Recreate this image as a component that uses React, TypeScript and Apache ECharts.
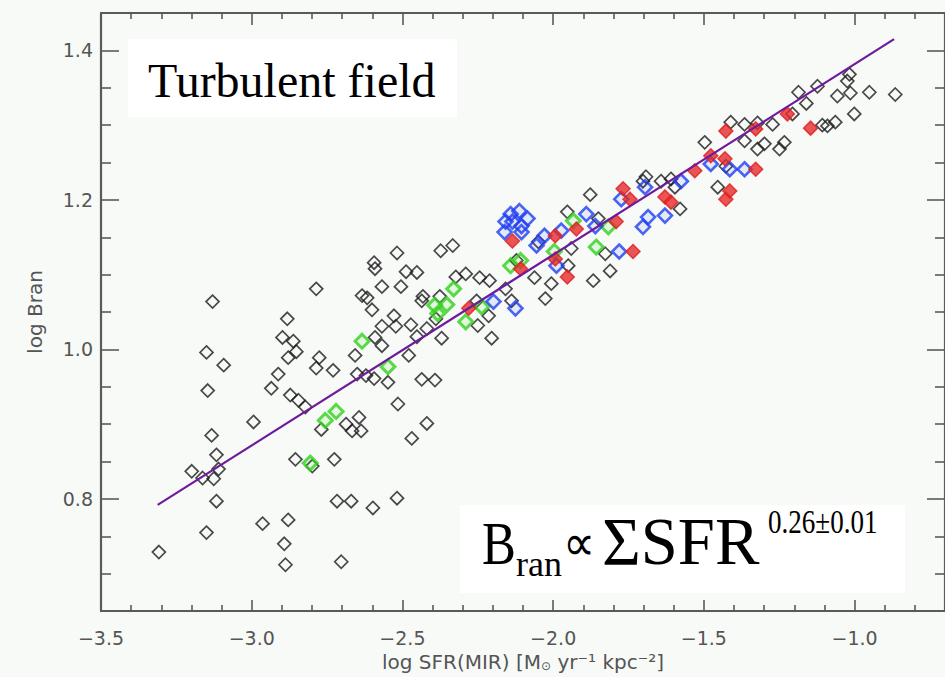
import React, { useEffect, useRef } from 'react';
import * as echarts from 'echarts';

// ---------- axis ticks ----------
const xMajorTicks = [-3.5, -3.0, -2.5, -2.0, -1.5, -1.0];
const xMinorTicks = [-3.4, -3.3, -3.2, -3.1, -2.9, -2.8, -2.7, -2.6, -2.4, -2.3, -2.2, -2.1, -1.9, -1.8, -1.7, -1.6, -1.4, -1.3, -1.2, -1.1, -0.9, -0.8];
const yMajorTicks = [0.8, 1.0, 1.2, 1.4];
const yMinorTicks = [0.7, 0.75, 0.85, 0.9, 0.95, 1.05, 1.1, 1.15, 1.25, 1.3, 1.35];

// ---------- data: [log SFR, log Bran] ----------
const blackPoints: [number, number][] = [
  [-3.308, 0.729], [-3.150, 0.755], [-3.199, 0.837], [-3.163, 0.828], [-3.126, 0.827], [-3.110, 0.840],
  [-3.117, 0.859], [-3.133, 0.885], [-3.117, 0.797], [-2.994, 0.903], [-2.964, 0.767], [-2.879, 0.772],
  [-2.892, 0.740], [-2.888, 0.712], [-2.855, 0.853], [-2.799, 0.844], [-2.726, 0.853], [-2.717, 0.797],
  [-2.670, 0.797], [-2.598, 0.788], [-2.518, 0.801], [-2.703, 0.716], [-2.769, 0.893], [-2.687, 0.900],
  [-2.667, 0.891], [-2.637, 0.891], [-2.644, 0.909], [-2.515, 0.927], [-2.469, 0.881], [-2.419, 0.901],
  [-3.130, 1.064], [-3.150, 0.996], [-3.093, 0.979], [-3.146, 0.945], [-2.935, 0.948], [-2.912, 0.967],
  [-2.882, 1.041], [-2.898, 1.016], [-2.862, 1.011], [-2.852, 0.997], [-2.879, 0.989], [-2.872, 0.939],
  [-2.845, 0.932], [-2.822, 0.923], [-2.786, 1.081], [-2.776, 0.989], [-2.786, 0.975], [-2.730, 0.972],
  [-2.657, 0.992], [-2.650, 0.967], [-2.634, 1.072], [-2.617, 1.069], [-2.601, 1.053], [-2.594, 1.116],
  [-2.591, 1.108], [-2.568, 1.084], [-2.518, 1.129], [-2.488, 1.104], [-2.452, 1.103], [-2.505, 1.084],
  [-2.528, 1.045], [-2.568, 1.031], [-2.591, 1.016], [-2.568, 1.005], [-2.522, 1.031], [-2.472, 1.033],
  [-2.436, 1.065], [-2.452, 1.017], [-2.419, 1.028], [-2.479, 0.992], [-2.621, 0.965], [-2.594, 0.961],
  [-2.548, 0.956], [-2.436, 0.960], [-2.392, 0.959], [-2.373, 1.132], [-2.333, 1.139], [-2.432, 1.071],
  [-2.376, 1.071], [-2.323, 1.097], [-2.290, 1.101], [-2.244, 1.096], [-2.211, 1.092], [-2.250, 1.032],
  [-2.214, 1.045], [-2.204, 1.015], [-2.254, 1.065], [-2.158, 1.081], [-2.138, 1.065], [-2.122, 1.119],
  [-2.062, 1.096], [-2.006, 1.088], [-2.026, 1.068], [-1.953, 1.184], [-1.940, 1.135], [-1.867, 1.092],
  [-1.811, 1.105], [-1.827, 1.128], [-1.877, 1.207], [-1.850, 1.175], [-1.692, 1.231], [-1.642, 1.225],
  [-1.609, 1.228], [-1.596, 1.217], [-1.579, 1.188], [-1.497, 1.277], [-1.454, 1.217], [-1.411, 1.304],
  [-1.365, 1.301], [-1.365, 1.279], [-1.322, 1.303], [-1.322, 1.268], [-1.299, 1.275], [-1.272, 1.301],
  [-1.249, 1.268], [-1.233, 1.277], [-1.206, 1.315], [-1.186, 1.344], [-1.160, 1.329], [-1.123, 1.352],
  [-1.107, 1.300], [-1.090, 1.299], [-1.064, 1.304], [-1.057, 1.339], [-1.024, 1.359], [-1.017, 1.368],
  [-1.014, 1.343], [-1.001, 1.315], [-0.951, 1.344], [-0.865, 1.341], [-1.702, 1.225], [-1.427, 1.245],
  [-2.389, 1.041], [-2.370, 1.015], [-1.950, 1.112], [-2.049, 1.144],
];

const greenPoints: [number, number][] = [
  [-2.806, 0.848], [-2.756, 0.905], [-2.720, 0.917], [-2.634, 1.011], [-2.548, 0.977], [-2.393, 1.059],
  [-2.353, 1.060], [-2.330, 1.081], [-2.383, 1.048], [-2.290, 1.037], [-2.237, 1.057], [-2.141, 1.112],
  [-2.108, 1.119], [-1.857, 1.137], [-1.817, 1.164], [-1.996, 1.131], [-1.933, 1.172],
];

const bluePoints: [number, number][] = [
  [-2.198, 1.064], [-2.125, 1.055], [-2.141, 1.181], [-2.112, 1.185], [-2.085, 1.175], [-2.105, 1.165],
  [-2.161, 1.157], [-2.135, 1.171], [-2.105, 1.157], [-2.158, 1.171], [-2.055, 1.139], [-2.029, 1.152],
  [-1.973, 1.159], [-1.989, 1.112], [-1.890, 1.181], [-1.860, 1.165], [-1.781, 1.131], [-1.702, 1.164],
  [-1.685, 1.177], [-1.629, 1.179], [-1.774, 1.201], [-1.695, 1.217], [-1.576, 1.225], [-1.477, 1.248],
  [-1.414, 1.241], [-1.365, 1.241],
];

const redPoints: [number, number][] = [
  [-2.280, 1.055], [-2.135, 1.145], [-2.108, 1.108], [-1.993, 1.152], [-1.953, 1.097], [-1.923, 1.161],
  [-1.791, 1.171], [-1.735, 1.131], [-1.768, 1.215], [-1.745, 1.201], [-1.629, 1.204], [-1.609, 1.197],
  [-1.530, 1.239], [-1.477, 1.259], [-1.427, 1.292], [-1.427, 1.201], [-1.414, 1.212], [-1.430, 1.255],
  [-1.328, 1.241], [-1.328, 1.295], [-1.223, 1.315], [-1.146, 1.296], [-1.993, 1.121],
];

const fitLine: [number, number][] = [[-3.312, 0.792], [-0.869, 1.415]];

const X_MIN = -3.5;
const X_MAX = -0.7;
const Y_MIN = 0.65;
const Y_MAX = 1.45;

const AXIS_COLOR = '#5a5a5a';
const LABEL_COLOR = '#555555';
const SANS = '"DejaVu Sans", sans-serif';
const SERIF = '"Liberation Serif", "Times New Roman", serif';

const fmt = (v: number) => (v < 0 ? '\u2212' : '') + Math.abs(v).toFixed(1);

function xAxisDef(position: 'bottom' | 'top', ticks: number[], len: number, showLine: boolean, labels: boolean, name?: string) {
  return {
    type: 'value',
    position,
    min: X_MIN,
    max: X_MAX,
    name: name || '',
    nameLocation: 'middle',
    nameGap: 38,
    nameTextStyle: {
      color: LABEL_COLOR,
      fontFamily: SANS,
      fontSize: 20,
      rich: {
        s: { fontSize: 12, color: LABEL_COLOR, fontFamily: SANS, padding: [8, 0, 0, 0] },
      },
    },
    axisLine: { show: showLine, onZero: false, lineStyle: { color: AXIS_COLOR, width: 2.2 } },
    axisTick: { show: true, inside: true, length: len, customValues: ticks, lineStyle: { color: AXIS_COLOR, width: 1.6 } },
    axisLabel: labels
      ? { show: true, customValues: ticks, formatter: fmt, color: LABEL_COLOR, fontFamily: SANS, fontSize: 19, margin: 17 }
      : { show: false },
    splitLine: { show: false },
  };
}

function yAxisDef(position: 'left' | 'right', ticks: number[], len: number, showLine: boolean, labels: boolean, name?: string) {
  return {
    type: 'value',
    position,
    min: Y_MIN,
    max: Y_MAX,
    name: name || '',
    nameLocation: 'middle',
    nameRotate: 90,
    nameGap: 56,
    nameTextStyle: { color: LABEL_COLOR, fontFamily: SANS, fontSize: 20 },
    axisLine: { show: showLine, onZero: false, lineStyle: { color: AXIS_COLOR, width: 2.2 } },
    axisTick: { show: true, inside: true, length: len, customValues: ticks, lineStyle: { color: AXIS_COLOR, width: 1.6 } },
    axisLabel: labels
      ? { show: true, customValues: ticks, formatter: (v: number) => v.toFixed(1), color: LABEL_COLOR, fontFamily: SANS, fontSize: 19, margin: 8 }
      : { show: false },
    splitLine: { show: false },
  };
}

function serifText(text: string, x: number, baseline: number, size: number, scaleX = 1) {
  return {
    type: 'text',
    x,
    y: baseline - 0.3375 * size,
    scaleX,
    z: 10,
    style: {
      text,
      fill: '#000000',
      font: `${size}px ${SERIF}`,
      textAlign: 'left',
      textVerticalAlign: 'middle',
      verticalAlign: 'middle',
    },
  };
}

export default function App() {
  const ref = useRef<HTMLDivElement>(null);

  useEffect(() => {
    if (!ref.current) return;
    const chart = echarts.init(ref.current, null, { renderer: 'svg' });

    const scatterBase = { type: 'scatter', symbol: 'diamond', symbolSize: 13, xAxisIndex: 0, yAxisIndex: 0 };

    chart.setOption({
      animation: false,
      backgroundColor: '#f8faf8',
      grid: { left: 101, top: 13, width: 847, height: 600, containLabel: false },
      xAxis: [
        xAxisDef('bottom', xMajorTicks, 11, true, true, 'log SFR(MIR) [M{s|\u2299} yr\u207B\u00B9 kpc\u207B\u00B2]'),
        xAxisDef('bottom', xMinorTicks, 6, false, false),
        xAxisDef('top', xMajorTicks, 12, true, false),
        xAxisDef('top', xMinorTicks, 6, false, false),
      ],
      yAxis: [
        yAxisDef('left', yMajorTicks, 18, true, true, 'log Bran'),
        yAxisDef('left', yMinorTicks, 10, false, false),
        yAxisDef('right', yMajorTicks, 18, true, false),
        yAxisDef('right', yMinorTicks, 10, false, false),
      ],
      graphic: [
        { type: 'rect', z: 0, shape: { x: 128, y: 39, width: 329, height: 78 }, style: { fill: '#ffffff' }, silent: true },
        { type: 'rect', z: 0, shape: { x: 460, y: 505, width: 445, height: 88 }, style: { fill: '#ffffff' }, silent: true },
        serifText('Turbulent field', 148, 97, 48),
        serifText('B', 482, 564, 62, 0.82),
        serifText('ran', 516, 576, 36),
        serifText('\u221D', 563, 560, 50, 0.9),
        serifText('\u03A3SFR', 602, 564, 68, 0.98),
        serifText('0.26\u00B10.01', 768, 533, 33, 0.82),
      ],
      series: [
        {
          ...scatterBase,
          name: 'other',
          data: blackPoints,
          itemStyle: { color: 'rgba(0,0,0,0)', borderColor: '#1c1c1c', borderWidth: 1.7 },
          z: 2,
        },
        {
          ...scatterBase,
          name: 'green',
          data: greenPoints,
          symbolSize: 14,
          itemStyle: { color: 'rgba(80,220,60,0.15)', borderColor: '#33d11f', borderWidth: 3 },
          z: 3,
        },
        {
          ...scatterBase,
          name: 'blue',
          data: bluePoints,
          symbolSize: 14,
          itemStyle: { color: 'rgba(40,70,240,0.12)', borderColor: '#1f3ff0', borderWidth: 2.6 },
          z: 4,
        },
        {
          ...scatterBase,
          name: 'red',
          data: redPoints,
          symbolSize: 14,
          itemStyle: { color: '#e52a2a', borderColor: '#e01e1e', borderWidth: 1.5 },
          z: 5,
        },
        {
          type: 'line',
          name: 'fit',
          data: fitLine,
          xAxisIndex: 0,
          yAxisIndex: 0,
          symbol: 'none',
          lineStyle: { color: '#6d1a9c', width: 2.2 },
          z: 6,
        },
      ],
    });

    return () => chart.dispose();
  }, []);

  return <div ref={ref} style={{ position: 'fixed', left: 0, top: 0, width: 945, height: 677 }} />;
}
